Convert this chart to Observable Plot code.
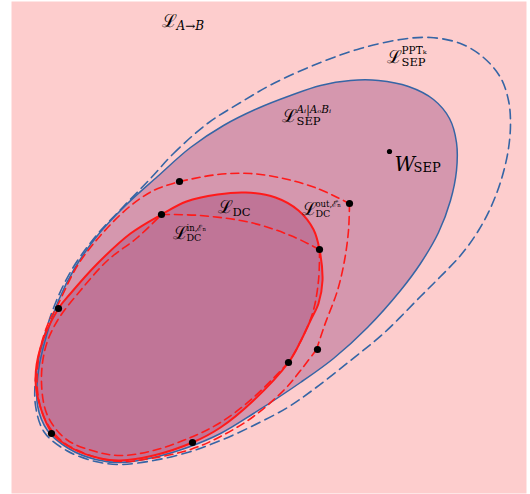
<!DOCTYPE html>
<html><head><meta charset="utf-8">
<script src="https://cdn.jsdelivr.net/npm/d3@7"></script>
<script src="https://cdn.jsdelivr.net/npm/@observablehq/plot@0.6"></script>
<style>body{margin:0;background:#fff} svg{display:block}</style>
</head><body><div id="chart"></div>
<script>
// Outline points (pixel-like coordinates)
const pptOutline = [[150,178],[173,153],[207,123],[240,102],[273,83],[320,62],[360,48],[400,39],[430,37],[460,43],[483,57],[500,77],[508,100],[510,122],[508,148],[502,175],[492,203],[478,230],[460,255],[440,276],[420,296],[383,333],[350,360],[313,389],[287,407],[253,425],[220,440],[187,452],[153,460],[120,464],[95,461],[66,450],[44,432],[35,405],[36,370],[44,335],[56,300],[72,268],[95,236],[123,206]];
const sepOutline = [[157,176],[190,147],[223,125],[257,108],[290,95],[320,85],[350,80],[378,80],[408,86],[433,99],[449,118],[456,142],[456,170],[450,200],[438,232],[420,263],[400,290],[367,327],[333,358],[300,382],[253,413],[220,433],[187,447],[153,457],[120,462],[95,459],[68,448],[47,430],[37,405],[38,370],[46,335],[58,300],[74,268],[97,235],[125,205]];
const dcOutline = [[58,308],[70,293],[97,263],[130,233],[161,214],[186,201],[217,194],[245,192],[275,197],[298,210],[313,229],[319,249],[322,280],[318,303],[310,320],[300,341],[288,362],[253,400],[220,427],[192,442],[153,455],[120,460],[100,458],[70,447],[52,433],[40,407],[35,380],[40,347]];
const dcOutEdges = [
  {edge:"top", pts:[[179,181],[217,174],[250,173],[283,178],[317,188],[349,203]]},
  {edge:"right", pts:[[349,203],[348,230],[344,260],[337,290],[324,325],[316,349]]},
  {edge:"rest", pts:[[316,349],[300,370],[285,388],[253,416],[220,436],[190,449],[150,458],[120,461],[90,455],[62,441],[45,420],[37,390],[39,352],[48,322],[57,305],[77,265],[100,235],[128,207],[153,190],[179,181]]}
];
const dcInEdges = [
  {edge:"chord", pts:[[161,214],[200,215],[250,222],[290,235],[319,249]]},
  {edge:"right", pts:[[319,249],[318,280],[312,313],[297,347],[288,362]]},
  {edge:"rest", pts:[[288,362],[253,397],[220,422],[190,437],[153,450],[120,455],[95,451],[66,439],[47,415],[41,382],[45,347],[57,320],[80,290],[107,260],[137,237],[161,214]]}
];
const dots = [[179,181],[349,203],[161,214],[319,249],[317,349],[288,362],[192,442],[51,433],[58,308]];
const wDot = [[389,151]];
// Label anchors (left, baseline) and texts
const labels = [
  {name:"AB",  x:161, y:26,  sup:"",        sub:"A→B"},
  {name:"PPT", x:386, y:62,  sup:"PPTₖ",    sub:"SEP"},
  {name:"SEP", x:281, y:121, sup:"Aᵢ|AₒBᵢ", sub:"SEP"},
  {name:"DC",  x:217, y:212, sup:"",        sub:"DC"},
  {name:"OUT", x:301, y:214, sup:"out,ℰ̂ₙ",  sub:"DC"},
  {name:"IN",  x:172, y:238, sup:"in,ℰₙ",   sub:"DC"}
];
const wLabel = [{x:394, y:170, main:"W", sub:"SEP"}];

const flat = (edges) => edges.flatMap(e => e.pts.map(p => ({x:p[0], y:p[1], edge:e.edge})));
const pick = (...names) => labels.filter(d => names.includes(d.name));

const pink = "#fdcdcd", mauve = "#d597ae", plum = "#c07597";
const blue = "#3565a5", red = "#ff1a1a";
const serif = "'DejaVu Serif', 'Liberation Serif', serif";
const txt = {x: "x", y: "y", textAnchor: "start", lineAnchor: "bottom", fontFamily: serif, fill: "black"};

const chart = Plot.plot({
  width: 530, height: 494,
  marginLeft: 11, marginRight: 4, marginTop: 1, marginBottom: 1,
  x: {domain: [11, 526], axis: null},
  y: {domain: [1, 493], reverse: true, axis: null},
  style: {background: "white"},
  marks: [
    Plot.frame({fill: pink, stroke: "none"}),
    Plot.line(sepOutline, {curve: "catmull-rom-closed", fill: mauve, stroke: "none"}),
    Plot.line(dcOutline, {curve: "catmull-rom-closed", fill: plum, stroke: "none"}),
    Plot.line(pptOutline, {curve: "catmull-rom-closed", stroke: blue, strokeWidth: 1.6, strokeDasharray: "9.5,5.5"}),
    Plot.line(sepOutline, {curve: "catmull-rom-closed", stroke: blue, strokeWidth: 1.5}),
    Plot.line(flat(dcOutEdges), {x: "x", y: "y", z: "edge", curve: "catmull-rom", stroke: red, strokeWidth: 1.6, strokeDasharray: "8,5"}),
    Plot.line(flat(dcInEdges), {x: "x", y: "y", z: "edge", curve: "catmull-rom", stroke: red, strokeWidth: 1.6, strokeDasharray: "8,5"}),
    Plot.line(dcOutline, {curve: "catmull-rom-closed", stroke: red, strokeWidth: 2}),
    Plot.dot(dots, {r: 3.6, fill: "black", stroke: "none"}),
    Plot.dot(wDot, {r: 2.6, fill: "black", stroke: "none"}),
    // calligraphic L glyphs
    Plot.text(labels, {...txt, text: () => "ℒ", fontSize: 18}),
    // subscripts
    Plot.text(pick("AB"), {...txt, text: "sub", dx: 15, dy: 3, fontSize: 12, fontStyle: "italic"}),
    Plot.text(pick("PPT", "SEP", "DC"), {...txt, text: "sub", dx: 15, dy: 3, fontSize: 11.5}),
    Plot.text(pick("OUT", "IN"), {...txt, text: "sub", dx: 14, dy: 2, fontSize: 9.5}),
    // superscripts
    Plot.text(pick("PPT"), {...txt, text: "sup", dx: 15, dy: -9, fontSize: 10.5}),
    Plot.text(pick("SEP"), {...txt, text: "sup", dx: 15, dy: -9, fontSize: 10.5, fontStyle: "italic"}),
    Plot.text(pick("OUT", "IN"), {...txt, text: "sup", dx: 14, dy: -8, fontSize: 8.5}),
    // W_SEP
    Plot.text(wLabel, {...txt, text: "main", fontSize: 20, fontStyle: "italic"}),
    Plot.text(wLabel, {...txt, text: "sub", dx: 19, dy: 1, fontSize: 13})
  ]
});
document.getElementById("chart").appendChild(chart);
</script>
</body></html>
